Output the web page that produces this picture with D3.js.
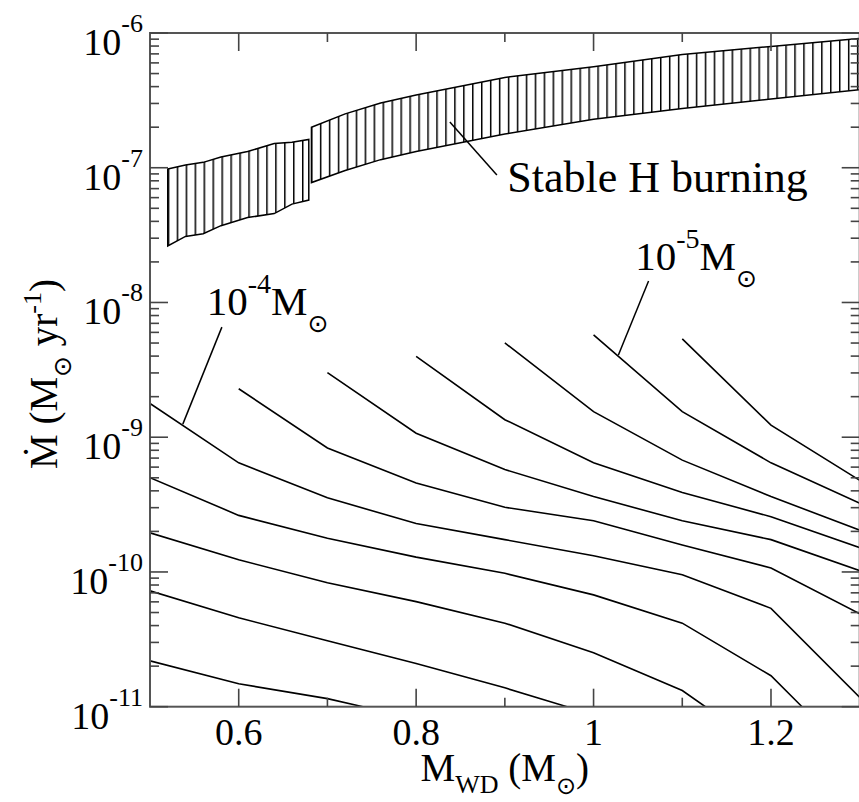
<!DOCTYPE html>
<html>
<head>
<meta charset="utf-8">
<script src="https://cdn.jsdelivr.net/npm/d3@7"></script>
<style>
  html, body { margin: 0; padding: 0; background: #fff; }
  svg { display: block; }
  text { font-family: "Liberation Serif", "Times New Roman", serif; fill: #000; }
</style>
</head>
<body>
<svg id="chart" width="859" height="802"></svg>
<script>
// contour lines of ignition mass: white dwarf mass (Msun) vs log10 Mdot (Msun/yr)
const c1Mass = [0.5, 0.6, 0.7, 0.8, 0.9, 1.0, 1.1, 1.2, 1.3];      // 10^-4 Msun
const c1LogMdot = [-8.75, -9.19, -9.45, -9.64, -9.76, -9.88, -10.02, -10.27, -10.93];
const c2Mass = [0.5, 0.6, 0.7, 0.8, 0.9, 1.0, 1.1, 1.2, 1.235];
const c2LogMdot = [-9.30, -9.58, -9.75, -9.89, -10.01, -10.17, -10.38, -10.77, -11.0];
const c3Mass = [0.5, 0.6, 0.7, 0.8, 0.9, 1.0, 1.1, 1.126];
const c3LogMdot = [-9.71, -9.91, -10.08, -10.22, -10.38, -10.60, -10.88, -11.0];
const c4Mass = [0.5, 0.6, 0.7, 0.8, 0.9, 0.97];
const c4LogMdot = [-10.14, -10.34, -10.51, -10.68, -10.86, -11.0];
const c5Mass = [0.5, 0.6, 0.7, 0.74];
const c5LogMdot = [-10.66, -10.83, -10.94, -11.0];
const c6Mass = [0.6, 0.7, 0.8, 0.9, 1.0, 1.1, 1.2, 1.3];
const c6LogMdot = [-8.64, -9.08, -9.34, -9.52, -9.62, -9.80, -9.97, -10.31];
const c7Mass = [0.7, 0.8, 0.9, 1.0, 1.1, 1.2, 1.3];
const c7LogMdot = [-8.52, -8.97, -9.24, -9.44, -9.62, -9.76, -9.99];
const c8Mass = [0.8, 0.9, 1.0, 1.1, 1.2, 1.3];
const c8LogMdot = [-8.40, -8.87, -9.19, -9.41, -9.59, -9.82];
const c9Mass = [0.9, 1.0, 1.1, 1.2, 1.3];
const c9LogMdot = [-8.30, -8.81, -9.17, -9.44, -9.69];
const c10Mass = [1.0, 1.1, 1.2, 1.3];                               // 10^-5 Msun
const c10LogMdot = [-8.24, -8.81, -9.19, -9.49];
const c11Mass = [1.1, 1.2, 1.3];
const c11LogMdot = [-8.27, -8.91, -9.32];

// stable H burning strip, two pieces
const bandAMass = [0.52, 0.54, 0.56, 0.58, 0.61, 0.64, 0.66, 0.679];
const bandAUpper = [-7.01, -6.98, -6.96, -6.92, -6.88, -6.82, -6.81, -6.79];
const bandALower = [-7.58, -7.51, -7.49, -7.43, -7.37, -7.34, -7.27, -7.24];
const bandBMass = [0.682, 0.72, 0.76, 0.8, 0.9, 1.0, 1.1, 1.2, 1.3];
const bandBUpper = [-6.70, -6.60, -6.52, -6.46, -6.33, -6.25, -6.16, -6.10, -6.04];
const bandBLower = [-7.11, -7.02, -6.94, -6.88, -6.75, -6.64, -6.56, -6.49, -6.42];

const xMajor = [0.6, 0.8, 1.0, 1.2];
const xMajorLabels = ['0.6', '0.8', '1', '1.2'];
const xMinor = [0.7, 0.9, 1.1];
const yDecades = [-11, -10, -9, -8, -7, -6];

const svg = d3.select('#chart');
const pLeft = 150, pRight = 859.7, pTop = 33, pBottom = 706.7;

const x = d3.scaleLinear().domain([0.5, 1.3]).range([pLeft, pRight]);
const y = d3.scaleLog().domain([1e-11, 1e-6]).range([pBottom, pTop]);
const yl = v => y(Math.pow(10, v));

const defs = svg.append('defs');
defs.append('clipPath').attr('id', 'plotClip')
    .append('rect')
    .attr('x', pLeft).attr('y', pTop)
    .attr('width', pRight - pLeft).attr('height', pBottom - pTop);

const hatch = defs.append('pattern')
    .attr('id', 'hatch')
    .attr('patternUnits', 'userSpaceOnUse')
    .attr('x', x(0.52)).attr('y', 0)
    .attr('width', 8.95).attr('height', 10);
hatch.append('line')
    .attr('x1', 0.75).attr('x2', 0.75)
    .attr('y1', 0).attr('y2', 10)
    .attr('stroke', '#000').attr('stroke-width', 1.5);

const plot = svg.append('g').attr('clip-path', 'url(#plotClip)');

// band polygons
function drawBand(mass, upper, lower) {
    const pts = mass.map((m, i) => [x(m), yl(upper[i])])
        .concat(mass.map((m, i) => [x(m), yl(lower[i])]).reverse());
    plot.append('path')
        .attr('d', d3.line()(pts) + 'Z')
        .attr('fill', 'url(#hatch)')
        .attr('stroke', '#000')
        .attr('stroke-width', 1.5)
        .attr('stroke-linejoin', 'miter');
}
drawBand(bandAMass, bandAUpper, bandALower);
drawBand(bandBMass, bandBUpper, bandBLower);

// contour lines
const contours = [
    [c1Mass, c1LogMdot], [c2Mass, c2LogMdot], [c3Mass, c3LogMdot],
    [c4Mass, c4LogMdot], [c5Mass, c5LogMdot], [c6Mass, c6LogMdot],
    [c7Mass, c7LogMdot], [c8Mass, c8LogMdot], [c9Mass, c9LogMdot],
    [c10Mass, c10LogMdot], [c11Mass, c11LogMdot]
];
const line = d3.line().x(d => x(d[0])).y(d => yl(d[1]));
contours.forEach(([ms, vs]) => {
    plot.append('path')
        .attr('d', line(ms.map((m, i) => [m, vs[i]])))
        .attr('fill', 'none')
        .attr('stroke', '#000')
        .attr('stroke-width', 1.6);
});

// frame
svg.append('rect')
    .attr('x', pLeft).attr('y', pTop)
    .attr('width', pRight - pLeft).attr('height', pBottom - pTop)
    .attr('fill', 'none')
    .attr('stroke', '#555')
    .attr('stroke-width', 2);

// ticks (all inward)
const majorLen = 18, minorLen = 9;
const tickG = svg.append('g').attr('stroke', '#444').attr('stroke-width', 1.6);
xMajor.forEach(v => {
    tickG.append('line').attr('x1', x(v)).attr('x2', x(v)).attr('y1', pBottom).attr('y2', pBottom - majorLen);
    tickG.append('line').attr('x1', x(v)).attr('x2', x(v)).attr('y1', pTop).attr('y2', pTop + majorLen);
});
xMinor.forEach(v => {
    tickG.append('line').attr('x1', x(v)).attr('x2', x(v)).attr('y1', pBottom).attr('y2', pBottom - minorLen);
    tickG.append('line').attr('x1', x(v)).attr('x2', x(v)).attr('y1', pTop).attr('y2', pTop + minorLen);
});
y.ticks().forEach(v => {
    const isMajor = Math.abs(Math.log10(v) - Math.round(Math.log10(v))) < 1e-6;
    const len = isMajor ? majorLen : minorLen;
    tickG.append('line').attr('x1', pLeft).attr('x2', pLeft + len).attr('y1', y(v)).attr('y2', y(v));
    tickG.append('line').attr('x1', pRight).attr('x2', pRight - len).attr('y1', y(v)).attr('y2', y(v));
});

// tick labels
xMajor.forEach((v, i) => {
    svg.append('text')
        .attr('x', x(v)).attr('y', 745)
        .attr('text-anchor', 'middle')
        .attr('font-size', 38)
        .text(xMajorLabels[i]);
});
yDecades.forEach(p => {
    const t = svg.append('text')
        .attr('x', 143).attr('y', y(Math.pow(10, p)) + 22)
        .attr('text-anchor', 'end')
        .attr('font-size', 38);
    t.append('tspan').text('10');
    t.append('tspan').attr('font-size', 26).attr('dy', -23).text(String(p));
});

// axis titles
const xt = svg.append('text')
    .attr('x', (pLeft + pRight) / 2).attr('y', 781)
    .attr('text-anchor', 'middle')
    .attr('font-size', 39);
xt.append('tspan').text('M');
xt.append('tspan').attr('font-size', 26).attr('dy', 12).text('WD');
xt.append('tspan').attr('dy', -12).text(' (M');
xt.append('tspan').attr('font-size', 24).attr('font-family', 'DejaVu Sans').attr('dy', 13).text('\u2299');
xt.append('tspan').attr('dy', -13).text(')');

const yt = svg.append('text')
    .attr('transform', 'translate(57,469) rotate(-90)')
    .attr('font-size', 39);
yt.append('tspan').text('\u1E40 (M');
yt.append('tspan').attr('font-size', 25).attr('font-family', 'DejaVu Sans').attr('dy', 14).text('\u2299');
yt.append('tspan').attr('dy', -14).text(' yr');
yt.append('tspan').attr('font-size', 26).attr('dy', -16).text('-1');
yt.append('tspan').attr('dy', 16).text(')');

// annotations
const annLines = [
    [[0.838, -6.661], [0.891, -7.054]],
    [[0.581, -8.183], [0.537, -8.903]],
    [[1.062, -7.841], [1.028, -8.390]]
];
annLines.forEach(seg => {
    svg.append('line')
        .attr('x1', x(seg[0][0])).attr('y1', yl(seg[0][1]))
        .attr('x2', x(seg[1][0])).attr('y2', yl(seg[1][1]))
        .attr('stroke', '#000').attr('stroke-width', 1.5);
});

svg.append('text')
    .attr('x', x(0.9027)).attr('y', yl(-7.18))
    .attr('font-size', 44)
    .text('Stable H burning');

function massLabel(m, v, exp) {
    const t = svg.append('text')
        .attr('x', x(m)).attr('y', yl(v))
        .attr('font-size', 41);
    t.append('tspan').text('10');
    t.append('tspan').attr('font-size', 28).attr('dy', -22).text(exp);
    t.append('tspan').attr('dy', 22).text('M');
    t.append('tspan').attr('font-size', 25).attr('font-family', 'DejaVu Sans').attr('dy', 17).text('\u2299');
}
massLabel(0.564, -8.094, '-4');
massLabel(1.047, -7.759, '-5');
</script>
</body>
</html>
